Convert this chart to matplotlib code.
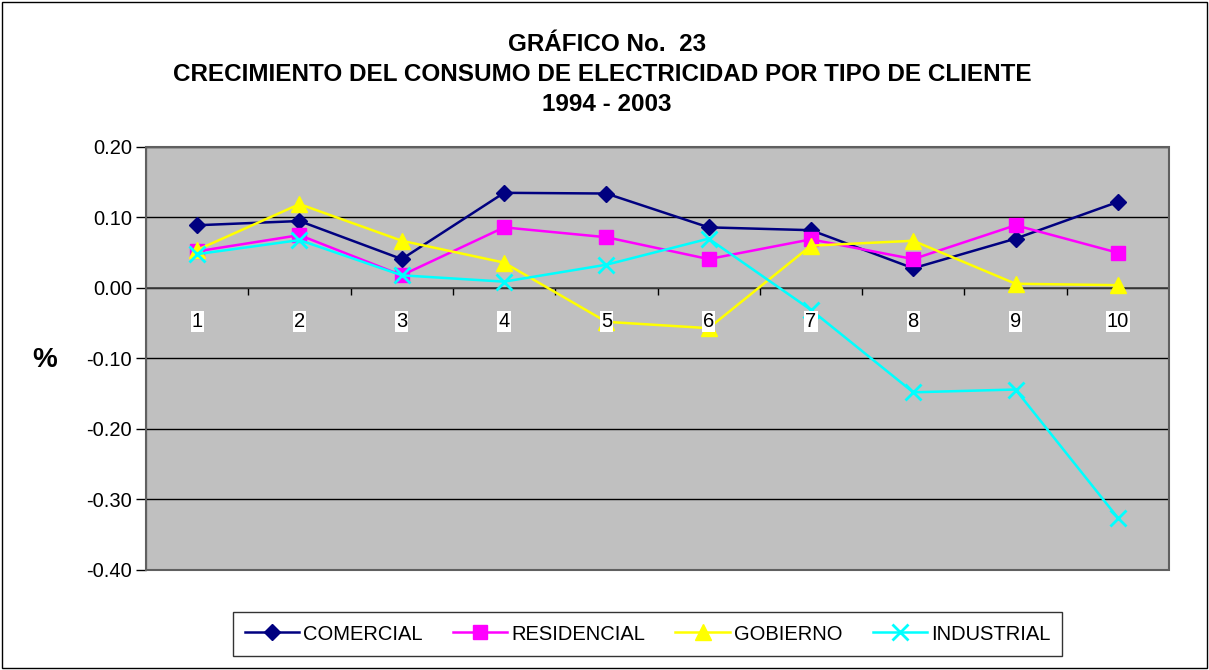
import matplotlib
matplotlib.use('Agg')
import matplotlib.pyplot as plt
from matplotlib.patches import Rectangle

plt.rcParams['font.family'] = ['Liberation Sans', 'DejaVu Sans']

# datos
years = [1, 2, 3, 4, 5, 6, 7, 8, 9, 10]
comercial = [0.089, 0.095, 0.041, 0.135, 0.134, 0.086, 0.082, 0.028, 0.070, 0.122]
residencial = [0.052, 0.075, 0.018, 0.086, 0.072, 0.041, 0.069, 0.041, 0.089, 0.050]
gobierno = [0.054, 0.119, 0.067, 0.036, -0.048, -0.057, 0.060, 0.067, 0.006, 0.004]
industrial = [0.048, 0.068, 0.018, 0.009, 0.033, 0.070, -0.031, -0.148, -0.144, -0.326]
yticks = [0.20, 0.10, 0.00, -0.10, -0.20, -0.30, -0.40]

series = [
	('COMERCIAL', comercial, '#000080', 'D', 8),
	('RESIDENCIAL', residencial, '#FF00FF', 's', 10),
	('GOBIERNO', gobierno, '#FFFF00', '^', 11),
	('INDUSTRIAL', industrial, '#00FFFF', 'x', 11),
]

fig = plt.figure(figsize=(12.09, 6.70), dpi=100, facecolor='w')
ax = fig.add_axes([0.1208, 0.1493, 0.8461, 0.6313])
ax.set_facecolor('#C0C0C0')

for name, vals, col, mk, ms in series:
	ax.plot(years, vals, color=col, lw=1.8, marker=mk, markersize=ms,
		markeredgewidth=2 if mk == 'x' else 1, markeredgecolor=col, label=name, zorder=3)

ax.set_xlim(0.5, 10.5)
ax.set_ylim(-0.40, 0.20)
ax.set_yticks(yticks)
ax.set_yticklabels(['%.2f' % v for v in yticks], fontsize=14.5)
ax.yaxis.grid(True, color='black', lw=1)
ax.set_axisbelow(True)
ax.tick_params(axis='y', direction='out', length=7, width=1, pad=3)

# eje horizontal en cero, con marcas entre categorias
ax.spines['bottom'].set_position(('data', 0))
ax.spines['bottom'].set_color('#404040')
ax.spines['bottom'].set_linewidth(1.2)
ax.set_xticks([x + 0.5 for x in years[:-1]])
ax.set_xticklabels([])
ax.tick_params(axis='x', direction='out', length=5, width=1, color='black')
for s in ['top', 'right']:
	ax.spines[s].set_visible(False)
ax.spines['left'].set_color('black')
ax.add_patch(Rectangle((0, 0), 1, 1, transform=ax.transAxes, fill=False,
	edgecolor='#606060', lw=1.5, zorder=5, clip_on=False))

for x in years:
	ax.annotate(str(x), (x, 0), xytext=(0, -17), textcoords='offset points',
		ha='center', va='top', fontsize=14.5, zorder=6,
		bbox=dict(boxstyle='square,pad=0.05', fc='white', ec='none'))

fig.text(0.0372, 0.4627, '%', fontsize=20, fontweight='bold', ha='center', va='center')

fig.text(0.502, 0.934, 'GRÁFICO No.  23', fontsize=17.5, fontweight='bold', ha='center', va='center')
fig.text(0.498, 0.889, 'CRECIMIENTO DEL CONSUMO DE ELECTRICIDAD POR TIPO DE CLIENTE',
	fontsize=17.5, fontweight='bold', ha='center', va='center')
fig.text(0.502, 0.844, '1994 - 2003', fontsize=17.5, fontweight='bold', ha='center', va='center')

leg = fig.legend(loc='center', bbox_to_anchor=(0.5356, 0.0537), ncol=4, fontsize=14.5,
	frameon=True, fancybox=False, edgecolor='black', handlelength=2.7,
	columnspacing=1.5, handletextpad=0.2, borderpad=0.6)
leg.get_frame().set_linewidth(1)

fig.patches.append(Rectangle((0.002, 0.003), 0.996, 0.994, transform=fig.transFigure,
	fill=False, edgecolor='black', lw=1))

plt.savefig('out.png', dpi=100)
